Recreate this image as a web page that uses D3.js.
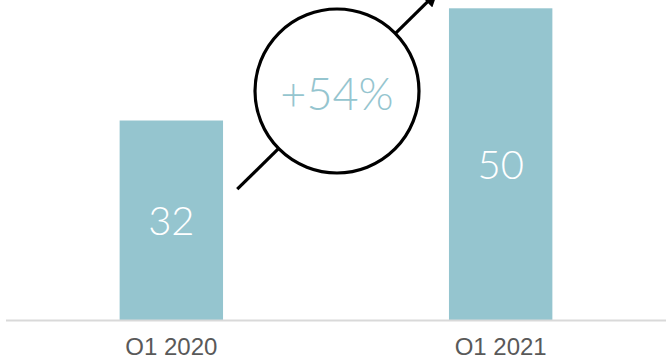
<!DOCTYPE html>
<html>
<head>
<meta charset="utf-8">
<script src="https://cdn.jsdelivr.net/npm/d3@7"></script>
<style>
  html, body { margin: 0; padding: 0; background: #fff; }
  svg { display: block; }
</style>
</head>
<body>
<svg id="chart" width="666" height="355"></svg>
<script>
// Quarterly totals
const categories = ["Q1 2020", "Q1 2021"];
const values = [32, 50];
const growthLabel = "+54%";

const W = 666, H = 355;
const baseline = 320;
const barColor = "#95c5cf";
const lightFont = "Lato, 'Liberation Sans', sans-serif";

const svg = d3.select("#chart");

const x = d3.scaleBand()
  .domain(categories)
  .range([6, 666])
  .paddingInner(0.686)
  .paddingOuter(0.345);

const y = d3.scaleLinear()
  .domain([0, 50])
  .range([baseline, 8.3]);

// Bars
svg.selectAll("rect.bar")
  .data(values)
  .join("rect")
  .attr("class", "bar")
  .attr("x", (d, i) => x(categories[i]))
  .attr("y", d => y(d))
  .attr("width", x.bandwidth())
  .attr("height", d => baseline - y(d))
  .attr("fill", barColor);

// Value labels, centred inside each bar
svg.selectAll("text.val")
  .data(values)
  .join("text")
  .attr("class", "val")
  .attr("x", (d, i) => x(categories[i]) + x.bandwidth() / 2)
  .attr("y", d => (y(d) + baseline) / 2)
  .attr("text-anchor", "middle")
  .attr("dominant-baseline", "central")
  .attr("font-family", lightFont)
  .attr("font-weight", 300)
  .attr("font-size", 40)
  .attr("fill", "#ffffff")
  .text(d => d);

// Baseline axis
const xAxis = d3.axisBottom(x).tickSize(0).tickPadding(0);
const gAxis = svg.append("g")
  .attr("transform", `translate(0,${baseline})`)
  .call(xAxis);
gAxis.select(".domain")
  .attr("d", "M6,0.5H666")
  .attr("stroke", "#d9d9d9")
  .attr("stroke-width", 2);
gAxis.selectAll(".tick text")
  .attr("y", 35)
  .attr("dy", 0)
  .attr("font-family", "'Liberation Sans', Arial, sans-serif")
  .attr("font-size", 24)
  .attr("fill", "#595959");

// Growth annotation: arrow from the first bar towards the second, with a circled label
const c0 = x(categories[0]) + x.bandwidth() / 2;
const c1 = x(categories[1]) + x.bandwidth() / 2;
const cx = (c0 + c1) / 2 + 1;
const cy = 91;
const r = 82;
const angle = Math.atan2(-194, 197);
const tailLen = 140, headLen = 128;
const x1 = cx - tailLen * Math.cos(angle), y1 = cy - tailLen * Math.sin(angle);
const x2 = cx + headLen * Math.cos(angle), y2 = cy + headLen * Math.sin(angle);

svg.append("defs").append("marker")
  .attr("id", "head")
  .attr("viewBox", "0 0 10 10")
  .attr("refX", 1)
  .attr("refY", 5)
  .attr("markerWidth", 4.6)
  .attr("markerHeight", 4.6)
  .attr("markerUnits", "strokeWidth")
  .attr("orient", "auto")
  .append("path")
  .attr("d", "M0,0L10,5L0,10Z")
  .attr("fill", "#000");

svg.append("line")
  .attr("x1", x1).attr("y1", y1)
  .attr("x2", x2).attr("y2", y2)
  .attr("stroke", "#000")
  .attr("stroke-width", 3.2)
  .attr("marker-end", "url(#head)");

svg.append("circle")
  .attr("cx", cx).attr("cy", cy).attr("r", r)
  .attr("fill", "#fff")
  .attr("stroke", "#000")
  .attr("stroke-width", 3.2);

svg.append("text")
  .attr("x", cx)
  .attr("y", cy + 2)
  .attr("text-anchor", "middle")
  .attr("dominant-baseline", "central")
  .attr("font-family", lightFont)
  .attr("font-weight", 300)
  .attr("font-size", 45)
  .attr("fill", barColor)
  .text(growthLabel);
</script>
</body>
</html>
